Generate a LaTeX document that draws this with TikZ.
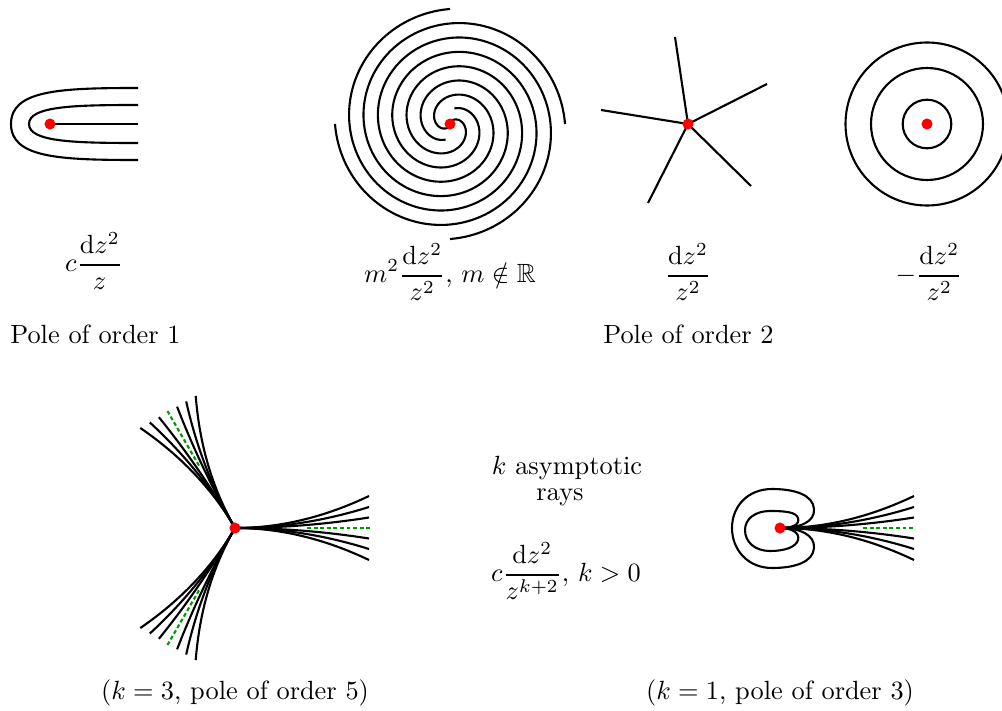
\documentclass[tikz,border=0pt]{standalone}
\usepackage{amsmath,amssymb}
\begin{document}
\begin{tikzpicture}[x=0.3796pt,y=-0.3796pt,
  traj/.style={line width=0.8pt},
  pole/.style={circle,fill=red,inner sep=0pt,minimum size=4.2pt},
  asym/.style={green!60!black,line width=0.8pt,dash pattern=on 1.5pt off 1pt},
  lbl/.style={inner sep=0pt}]
\useasboundingbox (0,0) rectangle (1002,711);

% ---------- pole of order 1 ----------
\coordinate (c1) at (50,124);
\coordinate (e1) at (138,124);
\draw[traj] (c1) -- (e1);
\draw[traj] (138,105) .. controls (75,105) and (29,106) .. (29,124)
  .. controls (29,142) and (75,143) .. (138,143);
\draw[traj] (138,88) .. controls (60,88) and (11,90) .. (11,124)
  .. controls (11,158) and (60,160) .. (138,160);
\node[pole] (d1) at (c1) {};

% ---------- spiral ----------
\coordinate (c2) at (450,124);
\foreach \s/\st in {-444/0,-354/100,-264/0,-174/100}
  \draw[traj] plot[domain=\st:714,samples=180,smooth,variable=\t]
    ({450+0.1611*\t*cos(\t+\s)},{124+0.1611*\t*sin(\t+\s)});
\node[pole] (d2) at (c2) {};

% ---------- star ----------
\coordinate (c3) at (688,124);
\coordinate (r1) at (675,37);
\coordinate (r2) at (767,84);
\coordinate (r3) at (751,186);
\coordinate (r4) at (648,203);
\coordinate (r5) at (601,110);
\foreach \r in {r1,r2,r3,r4,r5}
  \draw[traj] (c3) -- (\r);
\node[pole] (d3) at (c3) {};

% ---------- circles ----------
\coordinate (c4) at (927,124);
\foreach \rr in {24.3,56,81.5}
  \draw[traj] (c4) circle[radius=\rr];
\node[pole] (d4) at (c4) {};

% ---------- k = 3 ----------
\coordinate (c5) at (235,528);
\foreach \a in {0,120,240}{
  \begin{scope}[shift={(c5)},rotate=\a]
    \draw[asym] (72,0) -- (135,0);
    \foreach \v in {-32,-21,-10.5,10.5,21,32}
      \draw[traj] (0,0) .. controls (44.7,0) and (89.3,{\v/3}) .. (134,\v);
  \end{scope}
}
\node[pole] (d5) at (c5) {};

% ---------- k = 1 ----------
\coordinate (c6) at (780,528);
\begin{scope}[shift={(c6)}]
  \draw[asym] (83,0) -- (135,0);
  \foreach \v in {-32,-21,-10.5,10.5,21,32}
    \draw[traj] (0,0) .. controls (44.7,0) and (89.3,{\v/3}) .. (134,\v);
\end{scope}
\draw[traj] (c6) .. controls (792,528) and (800,525) .. (798,518)
  .. controls (796,512) and (785,511) .. (770,511)
  .. controls (755,511) and (745,519) .. (745,530)
  .. controls (745,542) and (755,551) .. (770,551)
  .. controls (785,551) and (796,547) .. (798,540)
  .. controls (800,533) and (792,528) .. (c6);
\draw[traj] (c6) .. controls (800,528) and (815,522) .. (814,509)
  .. controls (813,495) and (795,489) .. (772,489)
  .. controls (748,489) and (732,506) .. (732,528)
  .. controls (732,550) and (748,568) .. (772,568)
  .. controls (795,568) and (813,562) .. (814,548)
  .. controls (815,535) and (800,528) .. (c6);
\node[pole] (d6) at (c6) {};

% ---------- labels ----------
\node[lbl] (t1) at (94,261) {$\displaystyle c\frac{\mathrm{d}z^2}{z}$};
\node[lbl] (t2) at (450,272) {$\displaystyle m^2\frac{\mathrm{d}z^2}{z^2}$, $m\notin\mathbb{R}$};
\node[lbl] (t3) at (688,272) {$\displaystyle \frac{\mathrm{d}z^2}{z^2}$};
\node[lbl] (t4) at (929,272) {$\displaystyle -\frac{\mathrm{d}z^2}{z^2}$};
\node[lbl] (t5) at (95.5,334) {Pole of order 1};
\node[lbl] (t6) at (688.5,334) {Pole of order 2};
\node[lbl] (t7) at (567,468) {$k$ asymptotic};
\node[lbl] (t8) at (560,497) {rays};
\node[lbl] (t9) at (566,571) {$\displaystyle c\frac{\mathrm{d}z^2}{z^{k+2}}$, $k>0$};
\node[lbl] (t10) at (235,693) {($k=3$, pole of order 5)};
\node[lbl] (t11) at (780,693) {($k=1$, pole of order 3)};
\end{tikzpicture}
\end{document}
